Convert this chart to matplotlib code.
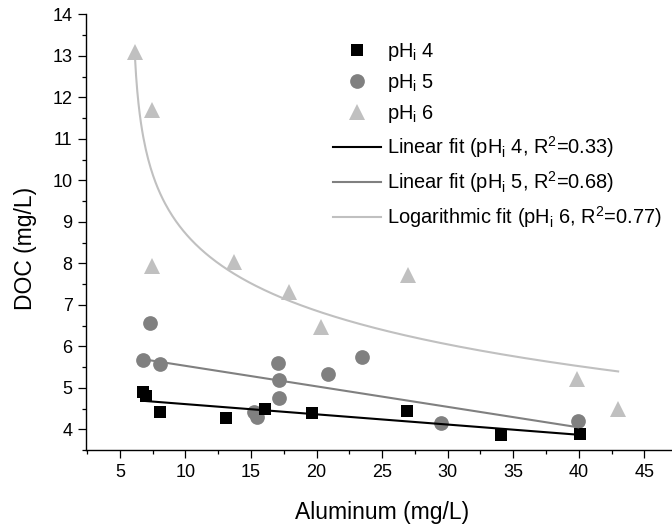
import numpy as np
import matplotlib
matplotlib.use("Agg")
import matplotlib.pyplot as plt
from matplotlib.ticker import MultipleLocator

plt.rcParams['font.family'] = ['Liberation Sans', 'DejaVu Sans']
plt.rcParams['mathtext.fontset'] = 'custom'
plt.rcParams['mathtext.rm'] = 'Liberation Sans'
plt.rcParams['mathtext.it'] = 'Liberation Sans:italic'
plt.rcParams['mathtext.bf'] = 'Liberation Sans:bold'

# ---- data ----
al_ph4 = [6.78, 6.98, 8.05, 13.06, 16.06, 19.62, 26.9, 34.1, 40.1]
doc_ph4 = [4.90, 4.81, 4.42, 4.26, 4.48, 4.38, 4.45, 3.86, 3.88]

al_ph5 = [6.78, 7.29, 8.05, 15.22, 15.47, 17.08, 17.10, 17.13, 20.84, 23.43, 29.49, 39.96]
doc_ph5 = [5.67, 6.57, 5.57, 4.42, 4.30, 5.60, 5.19, 4.76, 5.33, 5.75, 4.14, 4.20]

al_ph6 = [6.14, 7.42, 7.42, 13.72, 17.92, 20.33, 26.94, 39.83, 43.0]
doc_ph6 = [13.10, 11.69, 7.93, 8.03, 7.31, 6.46, 7.72, 5.20, 4.48]

# logarithmic fit (Origin form: y = A - B*ln(x + C)) for pH 6
log_A = 10.85
log_B = 1.51
log_C = -5.9

labels = ['pH$_\\mathregular{i}$ 4', 'pH$_\\mathregular{i}$ 5', 'pH$_\\mathregular{i}$ 6',
          'Linear fit (pH$_\\mathregular{i}$ 4, R$^\\mathregular{2}$=0.33)',
          'Linear fit (pH$_\\mathregular{i}$ 5, R$^\\mathregular{2}$=0.68)',
          'Logarithmic fit (pH$_\\mathregular{i}$ 6, R$^\\mathregular{2}$=0.77)']

x_ticks = [5, 10, 15, 20, 25, 30, 35, 40, 45]
y_ticks = [4, 5, 6, 7, 8, 9, 10, 11, 12, 13, 14]

c4 = '#000000'
c5 = '#808080'
c6 = '#C0C0C0'

fig = plt.figure(figsize=(6.72, 5.28), dpi=100)
W, H = 672.0, 528.0
ax_left, ax_right, ax_top, ax_bot = 86.5, 683.7, 14.3, 450.0
ax = fig.add_axes([ax_left / W, 1 - ax_bot / H, (ax_right - ax_left) / W, (ax_bot - ax_top) / H])

h4, = ax.plot(al_ph4, doc_ph4, 's', color=c4, ms=8.6, mew=0, zorder=4)
h5, = ax.plot(al_ph5, doc_ph5, 'o', color=c5, ms=10.6, mew=0, zorder=3)
h6, = ax.plot(al_ph6, doc_ph6, '^', color=c6, ms=11.8, mew=0, zorder=3)

# fits
p4 = np.polyfit(al_ph4, doc_ph4, 1)
xf4 = np.linspace(min(al_ph4), max(al_ph4), 50)
l4, = ax.plot(xf4, np.polyval(p4, xf4), '-', color=c4, lw=1.5, zorder=5)

p5 = np.polyfit(al_ph5, doc_ph5, 1)
xf5 = np.linspace(min(al_ph5), max(al_ph5), 50)
l5, = ax.plot(xf5, np.polyval(p5, xf5), '-', color=c5, lw=1.5, zorder=5)

xf6 = np.linspace(min(al_ph6), max(al_ph6), 400)
l6, = ax.plot(xf6, log_A - log_B * np.log(xf6 + log_C), '-', color=c6, lw=1.5, zorder=5)

ax.set_xlim(2.45, 48.0)
ax.set_ylim(3.5, 14.0)
ax.set_xticks(x_ticks)
ax.set_yticks(y_ticks)
ax.xaxis.set_minor_locator(MultipleLocator(2.5))
ax.yaxis.set_minor_locator(MultipleLocator(0.5))
ax.tick_params(which='major', direction='out', length=5.5, width=0.9, labelsize=13, pad=4.5)
ax.tick_params(which='minor', direction='out', length=3.0, width=0.9)
ax.spines['top'].set_visible(False)
ax.spines['right'].set_visible(False)
for s in ['left', 'bottom']:
    ax.spines[s].set_linewidth(1.0)

ax.set_xlabel('Aluminum (mg/L)', fontsize=16.5, va='center')
ax.set_ylabel('DOC (mg/L)', fontsize=16.5, va='center')
ax.xaxis.set_label_coords((381.7 - ax_left) / (ax_right - ax_left), -(513 - ax_bot) / (ax_bot - ax_top))
ax.yaxis.set_label_coords((26 - ax_left) / (ax_right - ax_left), (ax_bot - 248.3) / (ax_bot - ax_top))

leg = ax.legend([h4, h5, h6, l4, l5, l6], labels, loc='upper left',
                bbox_to_anchor=(333 / W, 1 - 41 / H), bbox_transform=fig.transFigure,
                frameon=False, fontsize=14.4, numpoints=1, handlelength=2.4,
                handletextpad=0.3, borderpad=0, borderaxespad=0, labelspacing=0.45)

fig.savefig('out.png', dpi=100)
